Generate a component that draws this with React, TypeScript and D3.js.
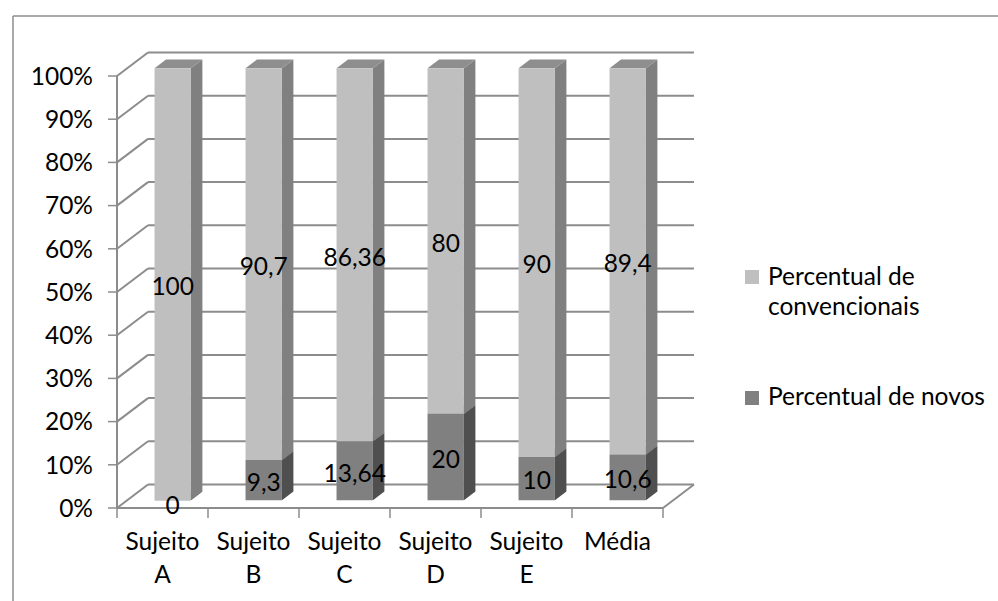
import React from "react";
import * as d3 from "d3";

const categories: string[][] = [
  ["Sujeito", "A"],
  ["Sujeito", "B"],
  ["Sujeito", "C"],
  ["Sujeito", "D"],
  ["Sujeito", "E"],
  ["Média"],
];
const novos: number[] = [0, 9.3, 13.64, 20, 10, 10.6];
const convencionais: number[] = [100, 90.7, 86.36, 80, 90, 89.4];
const novosLabels: string[] = ["0", "9,3", "13,64", "20", "10", "10,6"];
const convLabels: string[] = ["100", "90,7", "86,36", "80", "90", "89,4"];
const yTicks: number[] = [0, 10, 20, 30, 40, 50, 60, 70, 80, 90, 100];
const seriesNames: string[][] = [["Percentual de", "convencionais"], ["Percentual de novos"]];

const FONT = "Lato, 'Open Sans', sans-serif";
const FS = 24.5;
const DX = 31;
const DY = -23.5;
const D0 = 0.33;
const D1 = 0.7;

const x = d3.scaleBand<number>().domain(d3.range(categories.length)).range([117, 663]).padding(0);
const y = d3.scaleLinear().domain([0, 100]).range([508, 76]);

const proj = (px: number, py: number, d: number): [number, number] => [px + DX * d, py + DY * d];

const poly = (pts: [number, number][]) => pts.map((p) => p.join(",")).join(" ");

const light = { front: "#BFBFBF", side: "#808080", top: "#8E8E8E" };
const dark = { front: "#808080", side: "#4F4F4F", top: "#5E5E5E" };

function Box({ i, v0, v1, c }: { i: number; v0: number; v1: number; c: typeof light }) {
  const bw = x.bandwidth() * 0.4;
  const xl = (x(i) as number) + (x.bandwidth() - bw) / 2;
  const xr = xl + bw;
  const yb = y(v0);
  const yt = y(v1);
  const fTL = proj(xl, yt, D0);
  const fTR = proj(xr, yt, D0);
  const fBL = proj(xl, yb, D0);
  const fBR = proj(xr, yb, D0);
  const bTL = proj(xl, yt, D1);
  const bTR = proj(xr, yt, D1);
  const bBR = proj(xr, yb, D1);
  return (
    <g>
      <polygon points={poly([fTR, bTR, bBR, fBR])} fill={c.side} />
      <polygon points={poly([fTL, bTL, bTR, fTR])} fill={c.top} />
      <polygon points={poly([fTL, fTR, fBR, fBL])} fill={c.front} />
    </g>
  );
}

export default function App() {
  const axisColor = "#8C8C8C";
  const xFront0 = 117;
  const xFront1 = 663;
  return (
    <svg width={998} height={601} style={{ position: "absolute", left: 0, top: 0 }} fontFamily={FONT}>
      <rect x={0} y={0} width={998} height={601} fill="#fff" />
      {/* outer frame */}
      <line x1={13} y1={16} x2={998} y2={16} stroke="#8C8C8C" strokeWidth={1.5} />
      <line x1={13} y1={16} x2={13} y2={601} stroke="#8C8C8C" strokeWidth={1.5} />

      {/* back wall gridlines & left wall diagonals */}
      {yTicks.map((t) => {
        const [bx0, by] = proj(xFront0, y(t), 1);
        const [bx1] = proj(xFront1, y(t), 1);
        return (
          <g key={t}>
            <line x1={bx0} y1={by} x2={bx1} y2={by} stroke={axisColor} strokeWidth={2} />
            <line x1={xFront0} y1={y(t)} x2={bx0} y2={by} stroke={axisColor} strokeWidth={2} />
            <line x1={108} y1={y(t)} x2={xFront0} y2={y(t)} stroke={axisColor} strokeWidth={1.5} />
          </g>
        );
      })}
      {/* front axis */}
      <line x1={xFront0} y1={y(0)} x2={xFront0} y2={y(100)} stroke={axisColor} strokeWidth={2} />
      {/* floor */}
      <line x1={xFront0} y1={y(0)} x2={xFront1} y2={y(0)} stroke={axisColor} strokeWidth={2} />
      <line
        x1={xFront1}
        y1={y(0)}
        x2={proj(xFront1, y(0), 1)[0]}
        y2={proj(xFront1, y(0), 1)[1]}
        stroke={axisColor}
        strokeWidth={2}
      />
      {/* category ticks */}
      {d3.range(categories.length + 1).map((k) => {
        const px = k < categories.length ? (x(k) as number) : xFront1;
        return <line key={k} x1={px} y1={y(0)} x2={px} y2={y(0) + 10} stroke={axisColor} strokeWidth={1.5} />;
      })}

      {/* bars */}
      {categories.map((_, i) => (
        <g key={i}>
          <Box i={i} v0={0} v1={novos[i]} c={dark} />
          <Box i={i} v0={novos[i]} v1={novos[i] + convencionais[i]} c={light} />
        </g>
      ))}

      {/* y labels */}
      {yTicks.map((t) => (
        <text key={t} x={93} y={y(t)} dy="0.36em" textAnchor="end" fontSize={FS} fill="#000">
          {t}%
        </text>
      ))}

      {/* category labels */}
      {categories.map((lines, i) => (
        <text key={i} textAnchor="middle" fontSize={FS} fill="#000">
          {lines.map((ln, j) => (
            <tspan key={j} x={(x(i) as number) + x.bandwidth() / 2} y={550 + j * 33}>
              {ln}
            </tspan>
          ))}
        </text>
      ))}

      {/* value labels */}
      {categories.map((_, i) => {
        const cx = (x(i) as number) + x.bandwidth() / 2 + DX * D0;
        const yN = (y(0) + y(novos[i])) / 2 + DY * D0;
        const yC = (y(novos[i]) + y(novos[i] + convencionais[i])) / 2 + DY * D0;
        return (
          <g key={i} fontSize={FS} fill="#000" textAnchor="middle">
            <text x={cx} y={yC + 2} dy="0.36em">
              {convLabels[i]}
            </text>
            <text x={cx} y={yN + (novos[i] === 0 ? 5 : 2)} dy="0.36em">
              {novosLabels[i]}
            </text>
          </g>
        );
      })}

      {/* legend */}
      <rect x={745} y={270} width={14} height={14} fill={light.front} />
      <text fontSize={FS} fill="#000">
        <tspan x={768} y={285}>{seriesNames[0][0]}</tspan>
        <tspan x={768} y={315}>{seriesNames[0][1]}</tspan>
      </text>
      <rect x={745} y={391} width={14} height={14} fill={dark.front} />
      <text x={768} y={405} fontSize={FS} fill="#000">
        {seriesNames[1][0]}
      </text>
    </svg>
  );
}
